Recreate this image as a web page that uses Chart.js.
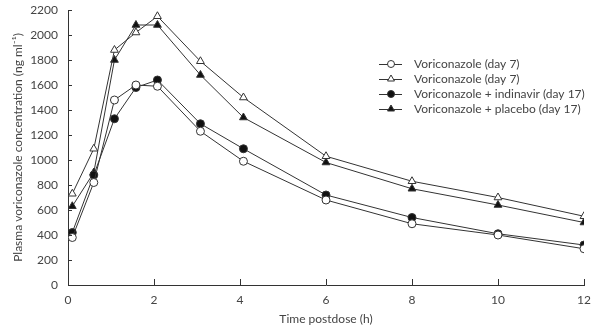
<!DOCTYPE html>
<html>
<head>
<meta charset="utf-8">
<script src="https://cdn.jsdelivr.net/npm/chart.js@4/dist/chart.umd.min.js"></script>
<style>
  html, body { margin: 0; padding: 0; background: #fff; }
  #wrap { width: 594px; height: 336px; position: relative; }
</style>
</head>
<body>
<div id="wrap"><canvas id="pkChart"></canvas></div>
<script>
// time points (h)
var hours = [0.1, 0.6, 1.08, 1.58, 2.08, 3.08, 4.08, 6, 8, 10, 12]
// concentrations (ng/ml)
var voriDay7a = [380, 820, 1480, 1600, 1590, 1230, 990, 680, 490, 400, 290]
var voriDay7b = [730, 1090, 1880, 2020, 2150, 1790, 1500, 1030, 830, 700, 550]
var voriIndinavir = [420, 880, 1330, 1580, 1640, 1290, 1090, 720, 540, 410, 320]
var voriPlacebo = [630, 900, 1800, 2080, 2080, 1680, 1340, 980, 770, 640, 500]
var seriesNames = ['Voriconazole (day 7)', 'Voriconazole (day 7)', 'Voriconazole + indinavir (day 17)', 'Voriconazole + placebo (day 17)']
var xTicks = [0, 2, 4, 6, 8, 10, 12]
var yMax = 2200
var yStep = 200

var ink = '#333'
var textCol = '#444'
var fontFam = 'Lato, "DejaVu Sans", sans-serif'

function toPoints(vals) {
    var pts = []
    for (var i = 0; i < hours.length; i++) {
        pts.push({ x: hours[i], y: vals[i] })
    }
    return pts
}

function makeSet(label, vals, style, filled) {
    return {
        label: label,
        data: toPoints(vals),
        borderColor: ink,
        borderWidth: 1,
        pointStyle: style,
        pointRadius: style == 'triangle' ? 4.5 : 4,
        pointBackgroundColor: filled ? '#111' : '#fff',
        pointBorderColor: ink,
        pointBorderWidth: 1,
        tension: 0,
        fill: false
    }
}

var sets = [
    makeSet(seriesNames[0], voriDay7a, 'circle', false),
    makeSet(seriesNames[1], voriDay7b, 'triangle', false),
    makeSet(seriesNames[2], voriIndinavir, 'circle', true),
    makeSet(seriesNames[3], voriPlacebo, 'triangle', true)
]

// ticks in this chart point inward, so draw them by hand from the scales
var inwardTicks = {
    id: 'inwardTicks',
    afterDraw: function (chart) {
        var ctx = chart.ctx
        var xs = chart.scales.x
        var ys = chart.scales.y
        ctx.save()
        ctx.strokeStyle = ink
        ctx.lineWidth = 1
        ctx.beginPath()
        xs.ticks.forEach(function (t) {
            var px = Math.round(xs.getPixelForValue(t.value)) + 0.5
            ctx.moveTo(px, ys.bottom)
            ctx.lineTo(px, ys.bottom - 6)
        })
        ys.ticks.forEach(function (t) {
            var py = Math.round(ys.getPixelForValue(t.value)) + 0.5
            ctx.moveTo(xs.left, py)
            ctx.lineTo(xs.left + 4, py)
        })
        ctx.stroke()
        ctx.restore()
    }
}

// legend with a little line + marker sample, like the original
var lineLegend = {
    id: 'lineLegend',
    afterDraw: function (chart) {
        var ctx = chart.ctx
        var x0 = 379
        var y0 = 64
        var rowH = 15
        ctx.save()
        ctx.font = '12px ' + fontFam
        ctx.textBaseline = 'middle'
        chart.data.datasets.forEach(function (ds, i) {
            var y = y0 + i * rowH
            ctx.strokeStyle = ink
            ctx.lineWidth = 1
            ctx.beginPath()
            ctx.moveTo(x0, y + 0.5)
            ctx.lineTo(x0 + 23, y + 0.5)
            ctx.stroke()
            ctx.fillStyle = ds.pointBackgroundColor
            ctx.strokeStyle = ink
            Chart.helpers.drawPoint(ctx, {
                pointStyle: ds.pointStyle,
                radius: ds.pointStyle == 'triangle' ? 4 : 3.5,
                rotation: 0,
                borderWidth: 1
            }, x0 + 12, y)
            ctx.fillStyle = textCol
            ctx.fillText(ds.label, 414, y)
        })
        ctx.restore()
    }
}

var chart = new Chart(document.getElementById('pkChart'), {
    type: 'line',
    data: { datasets: sets },
    options: {
        responsive: true,
        maintainAspectRatio: false,
        animation: false,
        layout: { padding: { top: 10, right: 10, left: 0, bottom: 0 } },
        plugins: {
            legend: { display: false },
            tooltip: { enabled: false }
        },
        scales: {
            x: {
                type: 'linear',
                min: 0,
                max: 12,
                afterBuildTicks: function (scale) {
                    scale.ticks = xTicks.map(function (v) { return { value: v } })
                },
                grid: { display: true, drawOnChartArea: false, drawTicks: false },
                border: { display: true, color: ink, width: 1 },
                ticks: {
                    padding: 8,
                    color: textCol,
                    font: { family: fontFam, size: 12 }
                },
                title: {
                    display: true,
                    text: 'Time postdose (h)',
                    color: textCol,
                    font: { family: fontFam, size: 12 },
                    padding: { top: 4, bottom: 10 }
                },
                afterFit: function (scale) {
                    scale.height = 51
                    scale.paddingLeft = 0
                    scale.paddingRight = 0
                }
            },
            y: {
                min: 0,
                max: yMax,
                ticks: {
                    stepSize: yStep,
                    padding: 10,
                    color: textCol,
                    font: { family: fontFam, size: 12 },
                    callback: function (v) { return String(v) }
                },
                grid: { display: true, drawOnChartArea: false, drawTicks: false },
                border: { display: true, color: ink, width: 1 },
                title: {
                    display: true,
                    text: 'Plasma voriconazole concentration (ng ml\u207B\u00B9)',
                    color: textCol,
                    font: { family: fontFam, size: 12 },
                    padding: { top: 11, bottom: 4 }
                },
                afterFit: function (scale) {
                    scale.width = 68
                    scale.paddingTop = 0
                    scale.paddingBottom = 0
                }
            }
        }
    },
    plugins: [inwardTicks, lineLegend]
})
</script>
</body>
</html>
